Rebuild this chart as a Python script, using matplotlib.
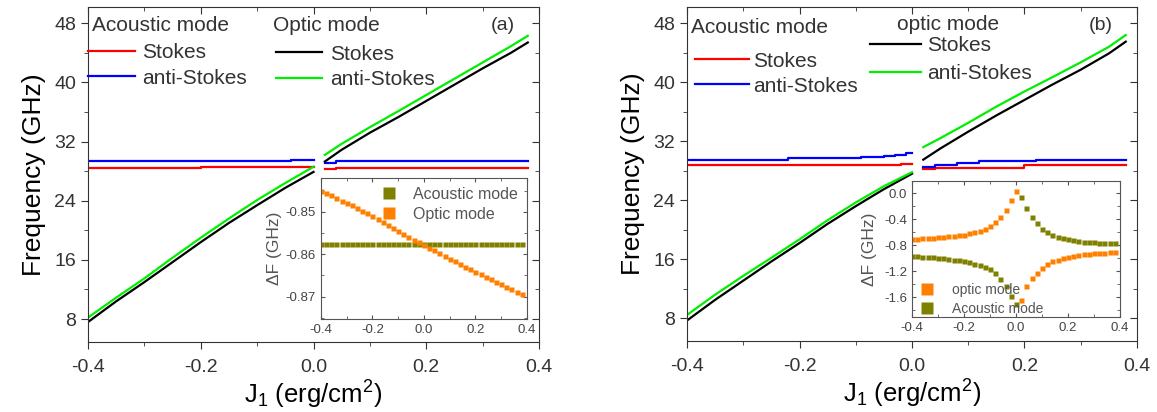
import matplotlib
matplotlib.use("Agg")
import matplotlib.pyplot as plt
from matplotlib.lines import Line2D
from matplotlib.legend import Legend
from matplotlib.ticker import MultipleLocator

plt.rcParams['font.family'] = ['Liberation Sans', 'DejaVu Sans']
plt.rcParams['mathtext.default'] = 'regular'

#### main panels: optic mode branches (x in erg/cm^2, y in GHz) ####
x_low = [-0.40, -0.35, -0.30, -0.25, -0.20, -0.15, -0.10, -0.05, 0.0]
x_up = [0.02, 0.05, 0.10, 0.15, 0.20, 0.25, 0.30, 0.35, 0.38]

a_black_low = [7.6, 10.4, 13.0, 15.7, 18.4, 21.0, 23.4, 25.75, 27.9]
a_green_low = [8.2, 10.9, 13.5, 16.3, 19.0, 21.6, 24.1, 26.4, 28.6]
a_black_up = [29.3, 30.9, 33.2, 35.3, 37.5, 39.7, 41.9, 44.0, 45.4]
a_green_up = [30.2, 31.7, 33.95, 36.1, 38.3, 40.5, 42.7, 44.9, 46.3]

b_black_low = [7.7, 10.5, 13.1, 15.7, 18.2, 20.8, 23.2, 25.5, 27.6]
b_green_low = [8.45, 11.2, 13.75, 16.2, 18.7, 21.3, 23.7, 25.9, 27.8]
b_black_up = [29.5, 31.0, 33.3, 35.5, 37.6, 39.7, 41.7, 43.9, 45.5]
b_green_up = [31.2, 32.4, 34.5, 36.7, 38.75, 40.7, 42.7, 44.8, 46.4]

#### acoustic mode (step-like) ####
a_red_low_x = [-0.40, -0.20, 0.0]
a_red_low = [28.45, 28.6, 28.6]
a_red_up_x = [0.02, 0.04, 0.38]
a_red_up = [28.25, 28.45, 28.45]
a_blue_low_x = [-0.40, -0.04, 0.0]
a_blue_low = [29.4, 29.57, 29.57]
a_blue_up_x = [0.02, 0.04, 0.38]
a_blue_up = [29.15, 29.4, 29.4]

b_red_low_x = [-0.40, -0.02, 0.0]
b_red_low = [28.75, 28.95, 28.95]
b_red_up_x = [0.02, 0.04, 0.20, 0.38]
b_red_up = [28.27, 28.4, 28.75, 28.75]
b_blue_low_x = [-0.40, -0.22, -0.09, -0.05, -0.03, -0.01, 0.0]
b_blue_low = [29.5, 29.72, 29.85, 30.0, 30.2, 30.45, 30.45]
b_blue_up_x = [0.02, 0.04, 0.08, 0.12, 0.22, 0.38]
b_blue_up = [28.55, 28.75, 29.1, 29.3, 29.45, 29.45]

#### insets: frequency shift dF (GHz) ####
x_in = [-0.40, -0.38, -0.36, -0.34, -0.32, -0.30, -0.28, -0.26, -0.24, -0.22,
        -0.20, -0.18, -0.16, -0.14, -0.12, -0.10, -0.08, -0.06, -0.04, -0.02,
        0.00, 0.02, 0.04, 0.06, 0.08, 0.10, 0.12, 0.14, 0.16, 0.18,
        0.20, 0.22, 0.24, 0.26, 0.28, 0.30, 0.32, 0.34, 0.36, 0.38]

ia_optic = [-0.8450, -0.8455, -0.8461, -0.8467, -0.8473, -0.8478, -0.8484, -0.8490, -0.8497, -0.8503,
            -0.8510, -0.8517, -0.8524, -0.8531, -0.8538, -0.8545, -0.8552, -0.8559, -0.8566, -0.8572,
            -0.8578, -0.8585, -0.8591, -0.8597, -0.8604, -0.8610, -0.8617, -0.8623, -0.8629, -0.8635,
            -0.8641, -0.8647, -0.8653, -0.8659, -0.8665, -0.8671, -0.8677, -0.8683, -0.8689, -0.8695]
ia_acoustic = [-0.8576] * len(x_in)

ib_optic = [-0.700, -0.695, -0.690, -0.686, -0.680, -0.675, -0.668, -0.660, -0.652, -0.642,
            -0.632, -0.616, -0.598, -0.575, -0.545, -0.500, -0.447, -0.370, -0.260, -0.100,
            0.030, -1.640, -1.430, -1.300, -1.220, -1.145, -1.085, -1.045, -1.020, -0.995,
            -0.972, -0.955, -0.942, -0.932, -0.924, -0.918, -0.913, -0.909, -0.907, -0.906]
ib_acoustic = [-0.965, -0.968, -0.972, -0.976, -0.982, -0.988, -0.996, -1.005, -1.018, -1.030,
               -1.044, -1.058, -1.080, -1.100, -1.125, -1.165, -1.230, -1.310, -1.430, -1.570,
               -1.700, -0.060, -0.230, -0.360, -0.450, -0.540, -0.595, -0.635, -0.665, -0.690,
               -0.707, -0.718, -0.730, -0.740, -0.745, -0.751, -0.755, -0.759, -0.762, -0.765]

RED, BLUE, GREEN = '#ff0000', '#0000ff', '#00ee00'
ORANGE, OLIVE = '#ff8000', '#808000'
LW = 1.6
FRAME = '#333333'
TXT = '#333333'
FS = 15


def style_main(ax):
    ax.set_xlim(-0.4, 0.4)
    ax.set_ylim(4.9, 50.2)
    ax.xaxis.set_major_locator(MultipleLocator(0.2))
    ax.xaxis.set_minor_locator(MultipleLocator(0.1))
    ax.yaxis.set_major_locator(MultipleLocator(8))
    ax.yaxis.set_minor_locator(MultipleLocator(4))
    ax.tick_params(which='both', direction='out', colors=FRAME, labelsize=14)
    ax.tick_params(which='major', length=5)
    ax.tick_params(which='minor', length=3)
    ax.tick_params(axis='x', pad=7)
    ax.xaxis.set_major_formatter(lambda v, p: f"{v:.1f}")
    for s in ax.spines.values():
        s.set_color(FRAME)
    # mirrored ticks pointing inward on top / right
    top = ax.secondary_xaxis('top')
    right = ax.secondary_yaxis('right')
    for sec in (top, right):
        sec.tick_params(which='both', direction='in', colors=FRAME, labelsize=0)
        sec.tick_params(which='major', length=5)
        sec.tick_params(which='minor', length=3)
        sec.spines[:].set_visible(False)
    top.xaxis.set_major_locator(MultipleLocator(0.2))
    top.xaxis.set_minor_locator(MultipleLocator(0.1))
    top.set_xticklabels([])
    right.yaxis.set_major_locator(MultipleLocator(8))
    right.yaxis.set_minor_locator(MultipleLocator(4))
    right.set_yticklabels([])
    ax.set_ylabel("Frequency (GHz)", fontsize=19, labelpad=6)
    ax.set_xlabel("J$_1$ (erg/cm$^2$)", fontsize=18.5, labelpad=2)


def style_inset(ax):
    ax.set_xlim(-0.4, 0.4)
    ax.xaxis.set_major_locator(MultipleLocator(0.2))
    ax.xaxis.set_minor_locator(MultipleLocator(0.1))
    ax.xaxis.set_major_formatter(lambda v, p: f"{v:.1f}")
    ax.tick_params(which='both', direction='in', top=True, right=True,
                   colors='#555555', labelsize=9.5, labelcolor='#444444')
    ax.tick_params(which='major', length=3)
    ax.tick_params(which='minor', length=2)
    for s in ax.spines.values():
        s.set_color('#555555')


def mode_legend(ax, handles, title, tx, ty, lx, ly, hlen, pad, spacing):
    ax.text(tx, ty, title, transform=ax.transAxes, fontsize=FS, color=TXT,
            ha='left', va='center')
    leg = Legend(ax, handles, ["Stokes", "anti-Stokes"], loc='upper left',
                 bbox_to_anchor=(lx, ly), frameon=False, fontsize=FS,
                 handlelength=hlen, handletextpad=pad, labelspacing=spacing,
                 borderpad=0, borderaxespad=0, labelcolor=TXT)
    ax.add_artist(leg)


fig = plt.figure(figsize=(11.57, 4.12), dpi=100)

ax_a = fig.add_axes([0.0761, 0.170, 0.3898, 0.813])
ax_b = fig.add_axes([0.5938, 0.172, 0.3889, 0.811])

panels = [
    (ax_a, a_black_low, a_green_low, a_black_up, a_green_up,
     a_red_low_x, a_red_low, a_red_up_x, a_red_up,
     a_blue_low_x, a_blue_low, a_blue_up_x, a_blue_up, "(a)"),
    (ax_b, b_black_low, b_green_low, b_black_up, b_green_up,
     b_red_low_x, b_red_low, b_red_up_x, b_red_up,
     b_blue_low_x, b_blue_low, b_blue_up_x, b_blue_up, "(b)"),
]

for (ax, bl, gl, bu, gu, rlx, rl, rux, ru, blx, bbl, bux, bbu, tag) in panels:
    ax.plot(rlx, rl, color=RED, lw=LW, drawstyle='steps-post')
    ax.plot(rux, ru, color=RED, lw=LW, drawstyle='steps-post')
    ax.plot(blx, bbl, color=BLUE, lw=LW, drawstyle='steps-post')
    ax.plot(bux, bbu, color=BLUE, lw=LW, drawstyle='steps-post')
    ax.plot(x_low, bl, color='black', lw=LW)
    ax.plot(x_up, bu, color='black', lw=LW)
    ax.plot(x_low, gl, color=GREEN, lw=LW)
    ax.plot(x_up, gu, color=GREEN, lw=LW)
    style_main(ax)
    ax.text(0.92, 0.946, tag, transform=ax.transAxes, fontsize=14,
            color=TXT, ha='center', va='center')

ac_handles = [Line2D([], [], color=RED, lw=LW), Line2D([], [], color=BLUE, lw=LW)]
op_handles = [Line2D([], [], color='black', lw=LW), Line2D([], [], color=GREEN, lw=LW)]

mode_legend(ax_a, ac_handles, "Acoustic mode", 0.009, 0.946, 0.0, 0.893, 2.25, 0.35, 0.32)
mode_legend(ax_a, op_handles, "Optic mode", 0.41, 0.946, 0.417, 0.888, 2.2, 0.38, 0.32)
mode_legend(ax_b, ac_handles, "Acoustic mode", 0.009, 0.940, 0.018, 0.866, 2.6, 0.2, 0.28)
mode_legend(ax_b, op_handles, "optic mode", 0.467, 0.949, 0.407, 0.912, 2.45, 0.3, 0.42)

# inset (a)
in_a = fig.add_axes([0.2774, 0.2257, 0.178, 0.342])
in_a.plot(x_in, ia_acoustic, ls='none', marker='s', ms=3.6, color=OLIVE,
          mec='none', label="Acoustic mode")
in_a.plot(x_in, ia_optic, ls='none', marker='s', ms=3.6, color=ORANGE,
          mec='none', label="Optic mode")
in_a.set_ylim(-0.8753, -0.8420)
in_a.yaxis.set_major_locator(MultipleLocator(0.01))
in_a.yaxis.set_minor_locator(MultipleLocator(0.005))
in_a.yaxis.set_major_formatter(lambda v, p: f"{v:.2f}")
style_inset(in_a)
in_a.set_ylabel("ΔF (GHz)", fontsize=12.5, color='#555555', labelpad=3)
in_a.legend(loc='upper right', frameon=False, fontsize=11.5, markerscale=2.4,
            handletextpad=0.5, labelspacing=0.3, borderaxespad=0.15,
            labelcolor='#555555')

# inset (b)
in_b = fig.add_axes([0.7882, 0.2306, 0.1798, 0.330])
in_b.plot(x_in, ib_optic, ls='none', marker='s', ms=3.6, color=ORANGE,
          mec='none', label="optic mode")
in_b.plot(x_in, ib_acoustic, ls='none', marker='s', ms=3.6, color=OLIVE,
          mec='none', label="Acoustic mode")
in_b.set_ylim(-1.9, 0.19)
in_b.yaxis.set_major_locator(MultipleLocator(0.4))
in_b.yaxis.set_minor_locator(MultipleLocator(0.2))
in_b.yaxis.set_major_formatter(lambda v, p: f"{v:.1f}")
style_inset(in_b)
in_b.set_ylabel("ΔF (GHz)", fontsize=12.5, color='#555555', labelpad=5,
                bbox=dict(facecolor='white', edgecolor='none', pad=1))
in_b.legend(loc='lower left', bbox_to_anchor=(-0.01, -0.01), frameon=False,
            fontsize=10, markerscale=2.2, handletextpad=0.8, labelspacing=0.35,
            borderpad=0.2, borderaxespad=0.0, labelcolor='#555555')

fig.savefig("out.png", dpi=100)
